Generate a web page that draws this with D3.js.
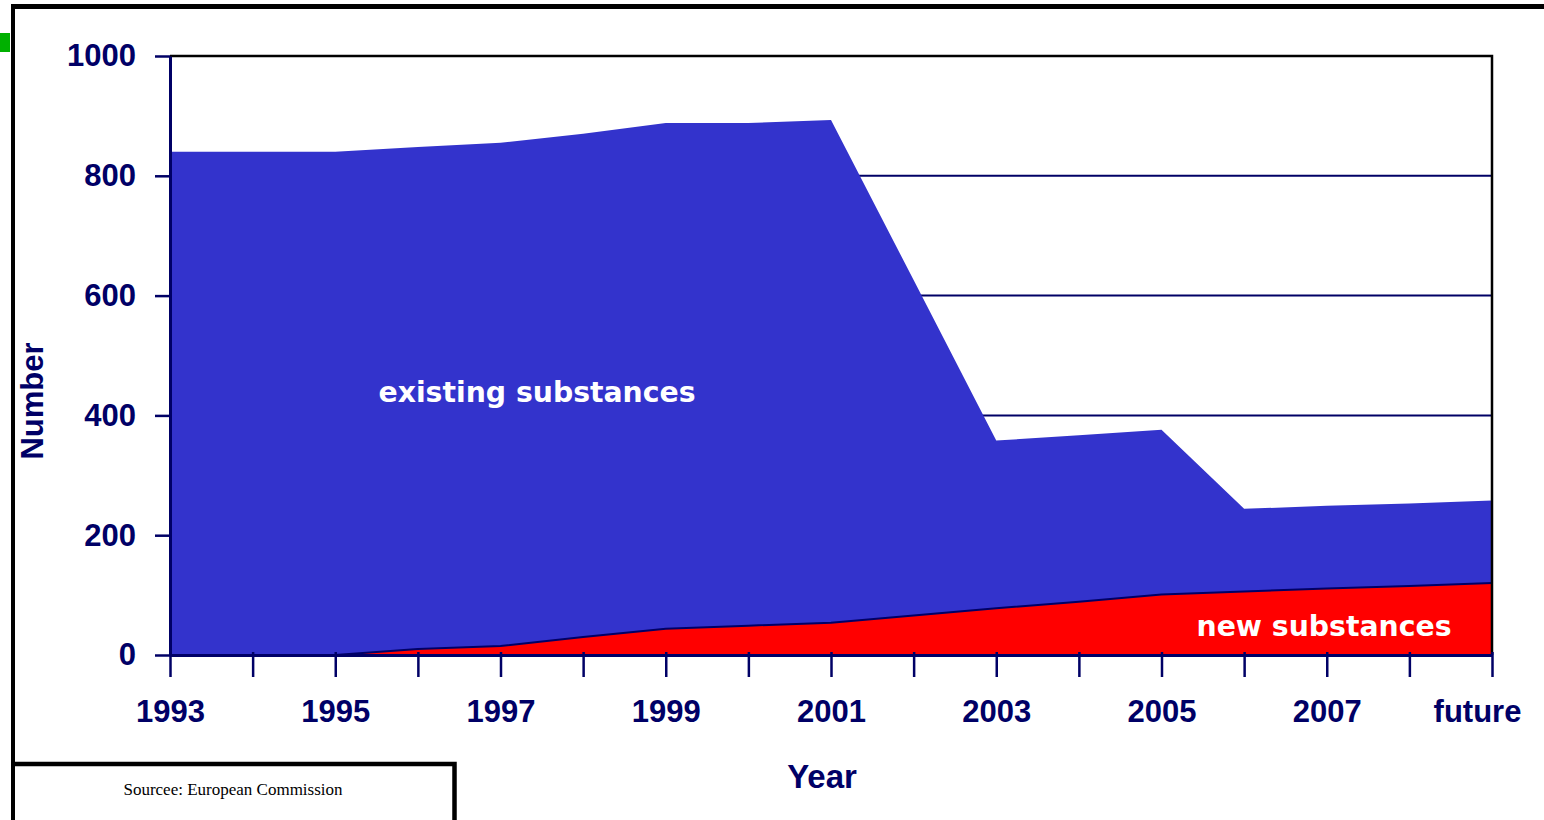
<!DOCTYPE html>
<html>
<head>
<meta charset="utf-8">
<script src="https://cdn.jsdelivr.net/npm/d3@7"></script>
<style>
  html, body { margin: 0; padding: 0; background: #fff; }
  svg { display: block; }
</style>
</head>
<body>
<svg id="chart" width="1544" height="820"></svg>
<script>
// Categories along the x axis: one per year, plus a projection column
const categories = ["1993", "1994", "1995", "1996", "1997", "1998", "1999", "2000",
                    "2001", "2002", "2003", "2004", "2005", "2006", "2007", "2008", "future"];
// Number of existing substances per year
const existingSubstances = [840, 840, 840, 848, 855, 870, 888, 888, 893, 626, 358, 367, 376, 244, 249, 253, 258];
// Number of new substances per year
const newSubstances = [0, 0, 0, 10, 15, 30, 44, 49, 54, 66, 78, 89, 101, 106, 111, 115, 120];
// Value axis ticks and grid lines
const yTicks = [0, 200, 400, 600, 800, 1000];
const gridValues = [200, 400, 600, 800];

const navy = "#000066";
const svg = d3.select("#chart");

const x = d3.scalePoint().domain(categories).range([170, 1492]);
const y = d3.scaleLinear().domain([0, 1000]).range([655, 56]);

// Outer page frame
svg.append("rect").attr("x", 0).attr("y", 33).attr("width", 10).attr("height", 19).attr("fill", "#00b000");
svg.append("line").attr("x1", 11).attr("x2", 1544).attr("y1", 6.5).attr("y2", 6.5)
  .attr("stroke", "#000").attr("stroke-width", 5);
svg.append("line").attr("x1", 13).attr("x2", 13).attr("y1", 4).attr("y2", 820)
  .attr("stroke", "#000").attr("stroke-width", 4);

// Grid lines sit behind the areas
svg.append("g").selectAll("line").data(gridValues).join("line")
  .attr("x1", x(categories[0])).attr("x2", x(categories[categories.length - 1]))
  .attr("y1", d => y(d)).attr("y2", d => y(d))
  .attr("stroke", navy).attr("stroke-width", 2);

const seriesArea = d3.area()
  .x((d, i) => x(categories[i]))
  .y0(y(0))
  .y1(d => y(d));
svg.append("path").datum(existingSubstances)
  .attr("d", seriesArea).attr("fill", "#3333cc");

svg.append("path").datum(newSubstances)
  .attr("d", seriesArea).attr("fill", "#ff0000");
svg.append("path").datum(newSubstances)
  .attr("d", d3.line().x((d, i) => x(categories[i])).y(d => y(d)))
  .attr("fill", "none").attr("stroke", navy).attr("stroke-width", 2);

// Plot border on the top and right
svg.append("path")
  .attr("d", `M${x(categories[0])},${y(1000)}H${x(categories[categories.length - 1])}V${y(0)}`)
  .attr("fill", "none").attr("stroke", "#000").attr("stroke-width", 2.5);

// Axes
const axisFont = "'Liberation Sans', Arial, sans-serif";
const xAxis = svg.append("g").attr("transform", `translate(0,${y(0)})`)
  .call(d3.axisBottom(x).tickSize(22).tickSizeOuter(0).tickPadding(23)
    .tickFormat((d, i) => i % 2 === 0 ? d : ""));
const yAxis = svg.append("g").attr("transform", `translate(${x(categories[0])},0)`)
  .call(d3.axisLeft(y).tickValues(yTicks).tickFormat(d3.format("d"))
    .tickSize(15).tickSizeOuter(0).tickPadding(19));

[xAxis, yAxis].forEach(g => {
  g.select(".domain").attr("stroke", navy).attr("stroke-width", 3);
  g.selectAll(".tick line").attr("stroke", navy).attr("stroke-width", 2.5);
  g.selectAll(".tick text").attr("fill", navy)
    .style("font-family", axisFont).style("font-weight", "bold").style("font-size", "31px");
});
xAxis.selectAll(".tick line").attr("y1", -3);
xAxis.selectAll(".tick text").attr("dy", "0.71em");
xAxis.selectAll(".tick text").filter(d => d === "future").attr("dx", -15);

// Axis titles
svg.append("text").attr("x", 822).attr("y", 788).attr("text-anchor", "middle")
  .attr("fill", navy).style("font-family", axisFont).style("font-weight", "bold").style("font-size", "33px")
  .text("Year");
svg.append("text").attr("transform", "translate(43,401) rotate(-90)").attr("text-anchor", "middle")
  .attr("fill", navy).style("font-family", axisFont).style("font-weight", "bold").style("font-size", "31px")
  .text("Number");

// Series labels inside the areas
const labelFont = "'DejaVu Sans', Verdana, sans-serif";
svg.append("text").attr("x", 537).attr("y", 402).attr("text-anchor", "middle")
  .attr("fill", "#fff").style("font-family", labelFont).style("font-weight", "bold").style("font-size", "28.3px")
  .text("existing substances");
svg.append("text").attr("x", 1324).attr("y", 636).attr("text-anchor", "middle")
  .attr("fill", "#fff").style("font-family", labelFont).style("font-weight", "bold").style("font-size", "28.3px")
  .text("new substances");

// Source box
svg.append("path").attr("d", "M11,764H454.5V820")
  .attr("fill", "none").attr("stroke", "#000").attr("stroke-width", 4.5);
svg.append("text").attr("x", 233).attr("y", 795).attr("text-anchor", "middle")
  .attr("fill", "#000").style("font-family", "'Liberation Serif', 'Times New Roman', serif").style("font-size", "17px")
  .text("Sourcee: European Commission");
</script>
</body>
</html>
